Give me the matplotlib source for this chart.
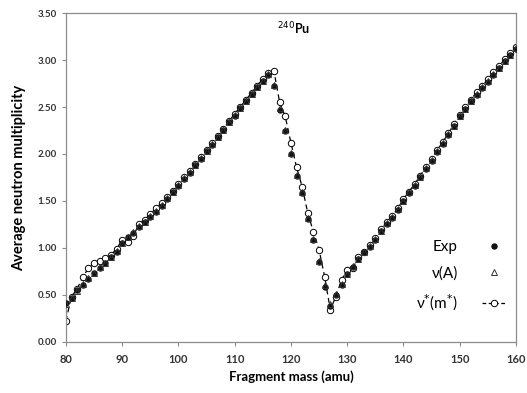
import numpy as np
import matplotlib.pyplot as plt
from matplotlib.lines import Line2D

# Fragment masses (amu)
mass = list(range(80, 161))

# Experimental average neutron multiplicity
exp_nu = [0.41, 0.46, 0.55, 0.60, 0.67, 0.73, 0.78, 0.84, 0.90, 0.96,
          1.05, 1.12, 1.16, 1.22, 1.27, 1.33, 1.38, 1.45, 1.52, 1.60,
          1.66, 1.73, 1.80, 1.88, 1.95, 2.03, 2.10, 2.18, 2.26, 2.34,
          2.41, 2.49, 2.56, 2.64, 2.71, 2.78, 2.84, 2.73, 2.47, 2.25,
          2.00, 1.77, 1.58, 1.31, 1.08, 0.85, 0.58, 0.38, 0.50, 0.60,
          0.72, 0.80, 0.88, 0.95, 1.01, 1.08, 1.18, 1.25, 1.32, 1.40,
          1.50, 1.58, 1.66, 1.75, 1.84, 1.93, 2.02, 2.11, 2.20, 2.30,
          2.40, 2.48, 2.56, 2.63, 2.70, 2.77, 2.84, 2.92, 2.99, 3.06,
          3.12]

# nu(A)
nu_a = [0.40, 0.46, 0.54, 0.61, 0.68, 0.73, 0.79, 0.84, 0.90, 0.97,
        1.05, 1.11, 1.17, 1.23, 1.28, 1.34, 1.39, 1.46, 1.53, 1.60,
        1.67, 1.74, 1.81, 1.88, 1.96, 2.03, 2.11, 2.18, 2.26, 2.34,
        2.42, 2.49, 2.57, 2.64, 2.71, 2.78, 2.85, 2.74, 2.49, 2.26,
        2.01, 1.78, 1.59, 1.32, 1.09, 0.86, 0.60, 0.40, 0.51, 0.61,
        0.72, 0.81, 0.88, 0.95, 1.02, 1.09, 1.18, 1.26, 1.33, 1.41,
        1.50, 1.59, 1.67, 1.76, 1.85, 1.94, 2.03, 2.12, 2.21, 2.30,
        2.40, 2.48, 2.56, 2.64, 2.71, 2.78, 2.85, 2.92, 2.99, 3.06,
        3.13]

# nu*(m*)
nu_star = [0.22, 0.48, 0.56, 0.69, 0.78, 0.84, 0.86, 0.89, 0.92, 0.99,
           1.08, 1.06, 1.13, 1.25, 1.30, 1.36, 1.42, 1.48, 1.54, 1.61,
           1.68, 1.75, 1.82, 1.89, 1.97, 2.04, 2.12, 2.19, 2.27, 2.35,
           2.43, 2.50, 2.58, 2.65, 2.73, 2.80, 2.86, 2.88, 2.55, 2.40,
           2.12, 1.86, 1.65, 1.37, 1.17, 0.98, 0.69, 0.34, 0.48, 0.66,
           0.76, 0.78, 0.90, 0.96, 1.03, 1.10, 1.20, 1.27, 1.34, 1.42,
           1.52, 1.60, 1.68, 1.77, 1.86, 1.95, 2.04, 2.13, 2.22, 2.32,
           2.42, 2.50, 2.58, 2.66, 2.72, 2.80, 2.87, 2.94, 3.01, 3.08,
           3.14]

plt.rcParams['font.family'] = ['Lato', 'DejaVu Sans']

fig = plt.figure(figsize=(5.27, 3.93), dpi=100)
ax = fig.add_axes([0.125, 0.131, 0.854, 0.835])

ax.plot(mass, nu_star, linestyle=(0, (4, 3)), color='black', linewidth=0.9,
        marker='o', markersize=4.6, markerfacecolor='white',
        markeredgecolor='black', markeredgewidth=0.7, zorder=2)
ax.plot(mass, exp_nu, linestyle='none', marker='o', markersize=3.6,
        markerfacecolor='#111111', markeredgecolor='#111111', zorder=3)
ax.plot(mass, nu_a, linestyle='none', marker='^', markersize=4.6,
        markerfacecolor='none', markeredgecolor='#333333',
        markeredgewidth=0.7, zorder=4)

ax.set_xlim(80, 160)
ax.set_ylim(0, 3.5)
ax.set_xticks(np.arange(80, 161, 10))
ax.set_yticks(np.arange(0, 3.51, 0.5))
ax.set_yticklabels([f'{v:.2f}' for v in np.arange(0, 3.51, 0.5)])

for s in ax.spines.values():
    s.set_color('#8c8c8c')
    s.set_linewidth(0.9)
ax.tick_params(axis='both', direction='out', length=3, color='#8c8c8c',
               labelsize=7, width=0.8)
for lbl in ax.get_xticklabels() + ax.get_yticklabels():
    lbl.set_fontweight('bold')
    lbl.set_color('#333333')
ax.tick_params(axis='x', labelsize=8, pad=6)

ax.set_xlabel('Fragment mass (amu)', fontsize=9.5, fontweight='bold', labelpad=4)
ax.set_ylabel('Average neutron multiplicity', fontsize=10.5, fontweight='bold',
              labelpad=8)

ax.text(117.6, 3.28, r'$^{240}$' + 'Pu', fontsize=9, fontweight='bold')

handles = [
    Line2D([], [], linestyle='none', marker='o', markersize=3.6,
           markerfacecolor='#111111', markeredgecolor='#111111'),
    Line2D([], [], linestyle='none', marker='^', markersize=4.6,
           markerfacecolor='none', markeredgecolor='#333333', markeredgewidth=0.7),
    Line2D([], [], linestyle=(0, (3, 2)), color='black', linewidth=0.9,
           marker='o', markersize=4.6, markerfacecolor='white',
           markeredgecolor='black', markeredgewidth=0.7),
]
labels = ['Exp', 'ν(A)', 'ν$^{*}$(m$^{*}$)']
ax.legend(handles, labels, loc='lower right', bbox_to_anchor=(1.01, 0.045),
          frameon=False, markerfirst=False, fontsize=11, handlelength=1.6,
          handletextpad=1.6, labelspacing=0.8)

fig.savefig('out.png', dpi=100)
